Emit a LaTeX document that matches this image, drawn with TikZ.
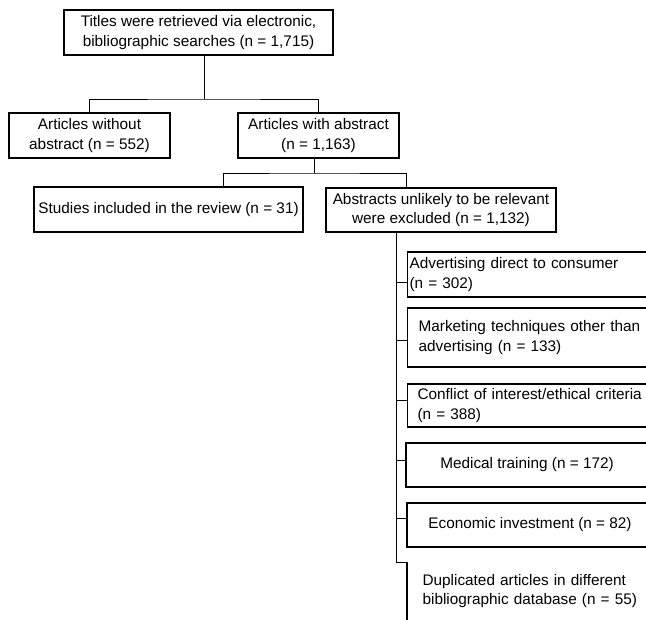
\documentclass[tikz,border=0pt]{standalone}
\usepackage{fontspec}
\setmainfont{Liberation Sans}
\tikzset{
    box/.style={draw, line width=0.9pt, inner sep=0pt, align=center,
        font=\fontsize{11.5}{14.6}\selectfont},
    leftbox/.style={box, align=left, anchor=west},
    link/.style={line width=0.7pt},
}
\begin{document}
\begin{tikzpicture}[x=0.75pt, y=-0.75pt]
    \useasboundingbox (0, 0) rectangle (646, 619);
    \clip (0, 0) rectangle (646, 619);

    % first levels
    \node[box, minimum width=201.75pt, minimum height=33.75pt] (titles) at (198.5, 32.5)
        {Titles were retrieved via electronic,\\bibliographic searches (n = 1,715)};
    \node[box, minimum width=120.75pt, minimum height=33.75pt] (without) at (89.5, 135.5)
        {Articles without\\abstract (n = 552)};
    \node[box, minimum width=120.75pt, minimum height=33.75pt] (with) at (318.5, 135.5)
        {Articles with abstract\\(n = 1,163)};
    \node[box, minimum width=201.75pt, minimum height=33.75pt] (studies) at (168.5, 209.5)
        {Studies included in the review (n = 31)};
    \node[box, minimum width=172.5pt, minimum height=33pt] (abstracts) at (441, 210)
        {Abstracts unlikely to be relevant\\were excluded (n = 1,132)};

    \coordinate (split1) at (204, 99);
    \coordinate (split2) at (314, 173);
    \draw[link] (split1 |- titles.south) -- (split1);
    \draw[link] (without.north) |- (split1) -| (with.north);
    \draw[link] (split2 |- with.south) -- (split2);
    \draw[link] (studies.north -| 223, 0) |- (split2) -| (abstracts.north -| 406, 0);

    % excluded abstracts
    \node[leftbox, inner xsep=1.5pt, text width=220pt, minimum height=33.75pt] (advert) at (407, 274.5)
        {Advertising direct to consumer\\(n = 302)};
    \node[leftbox, inner xsep=8.25pt, text width=200pt, minimum height=44.25pt] (marketing) at (407, 337.5)
        {Marketing techniques other than\\advertising (n = 133)};
    \node[leftbox, inner xsep=7.5pt, text width=200pt, minimum height=32.25pt] (conflict) at (407, 405.5)
        {Conflict of interest/ethical criteria\\(n = 388)};
    \node[box, minimum width=181.5pt, minimum height=33pt] (medical) at (527, 465)
        {Medical training (n = 172)};
    \node[box, minimum width=184.5pt, minimum height=33pt] (economic) at (530, 525)
        {Economic investment (n = 82)};
    \node[leftbox, draw=none, anchor=north west, inner xsep=11.25pt, text width=200pt,
        minimum height=42.75pt] (duplicated) at (407, 562)
        {Duplicated articles in different\\bibliographic database (n = 55)};

    \coordinate (trunk) at (396, 562);
    \draw[link] (abstracts.south -| trunk) -- (trunk) -- (duplicated.north west);
    \draw[line width=0.9pt] (duplicated.north west) -- (duplicated.south west);
    \draw[link] (trunk |- 0, 282) -- (advert.west |- 0, 282);
    \draw[link] (trunk |- 0, 340) -- (marketing.west |- 0, 340);
    \draw[link] (trunk |- 0, 400) -- (conflict.west |- 0, 400);
    \draw[link] (trunk |- 0, 460) -- (medical.west |- 0, 460);
    \draw[link] (trunk |- 0, 518) -- (economic.west |- 0, 518);
\end{tikzpicture}
\end{document}
